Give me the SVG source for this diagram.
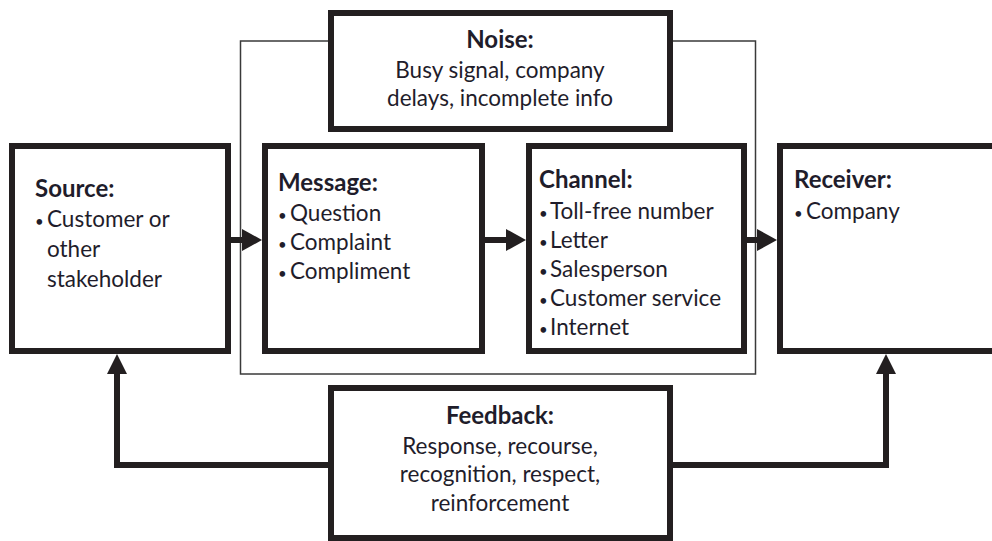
<svg xmlns="http://www.w3.org/2000/svg" width="992" height="541" viewBox="0 0 992 541">
  <style>
    .box { fill: #ffffff; stroke: #231f20; stroke-width: 6; }
    .frame { fill: none; stroke: #3a3a3a; stroke-width: 1.5; }
    .wire { fill: none; stroke: #231f20; stroke-width: 6; stroke-linejoin: miter; }
    .head { fill: #231f20; }
    text { font-family: Lato, "Open Sans", "Liberation Sans", sans-serif; font-size: 22.5px; fill: #1f1d2b; }
    .title { font-weight: bold; font-size: 24px; }
    .mid { text-anchor: middle; }
    .dot { font-size: 15px; }
  </style>

  <!-- thin enclosure around noise, message and channel -->
  <rect class="frame" x="240.5" y="41" width="515" height="333"/>

  <g id="noise">
    <rect class="box" x="331" y="13" width="339" height="116"/>
    <text class="title mid" x="500" y="48">Noise:</text>
    <text class="mid" x="500" y="78">Busy signal, company</text>
    <text class="mid" x="500" y="106">delays, incomplete info</text>
  </g>

  <g id="source">
    <rect class="box" x="12" y="146" width="216" height="205"/>
    <text class="title" x="35" y="197">Source:</text>
    <text x="35" y="227"><tspan class="dot">•</tspan><tspan x="47">Customer or</tspan></text>
    <text x="47" y="257">other</text>
    <text x="47" y="287">stakeholder</text>
  </g>

  <g id="message">
    <rect class="box" x="265" y="146" width="217" height="205"/>
    <text class="title" x="278" y="191">Message:</text>
    <text x="278" y="221"><tspan class="dot">•</tspan><tspan x="290">Question</tspan></text>
    <text x="278" y="250"><tspan class="dot">•</tspan><tspan x="290">Complaint</tspan></text>
    <text x="278" y="279"><tspan class="dot">•</tspan><tspan x="290">Compliment</tspan></text>
  </g>

  <g id="channel">
    <rect class="box" x="529" y="146" width="215" height="205"/>
    <text class="title" x="539" y="188">Channel:</text>
    <text x="539" y="219"><tspan class="dot">•</tspan><tspan x="550">Toll-free number</tspan></text>
    <text x="539" y="248"><tspan class="dot">•</tspan><tspan x="550">Letter</tspan></text>
    <text x="539" y="277"><tspan class="dot">•</tspan><tspan x="550">Salesperson</tspan></text>
    <text x="539" y="306"><tspan class="dot">•</tspan><tspan x="550">Customer service</tspan></text>
    <text x="539" y="335"><tspan class="dot">•</tspan><tspan x="550">Internet</tspan></text>
  </g>

  <g id="receiver">
    <rect class="box" x="780" y="146" width="230" height="205"/>
    <text class="title" x="794" y="188">Receiver:</text>
    <text x="794" y="219"><tspan class="dot">•</tspan><tspan x="806">Company</tspan></text>
  </g>

  <g id="feedback">
    <rect class="box" x="331" y="388" width="339" height="150"/>
    <text class="title mid" x="500" y="424">Feedback:</text>
    <text class="mid" x="500" y="454">Response, recourse,</text>
    <text class="mid" x="500" y="482">recognition, respect,</text>
    <text class="mid" x="500" y="511">reinforcement</text>
  </g>

  <g id="connectors">
    <!-- source to message -->
    <line class="wire" x1="231" y1="240" x2="246" y2="240"/>
    <polygon class="head" points="242,229 262,240 242,251"/>
    <!-- message to channel -->
    <line class="wire" x1="485" y1="240" x2="510" y2="240"/>
    <polygon class="head" points="506,229 526,240 506,251"/>
    <!-- channel to receiver -->
    <line class="wire" x1="747" y1="240" x2="761" y2="240"/>
    <polygon class="head" points="757,229 777,240 757,251"/>
    <!-- feedback back to source -->
    <polyline class="wire" points="328,465 117,465 117,370"/>
    <polygon class="head" points="107,374 117,354 127,374"/>
    <!-- feedback to receiver -->
    <polyline class="wire" points="673,465 886,465 886,370"/>
    <polygon class="head" points="876,374 886,354 896,374"/>
  </g>
</svg>
